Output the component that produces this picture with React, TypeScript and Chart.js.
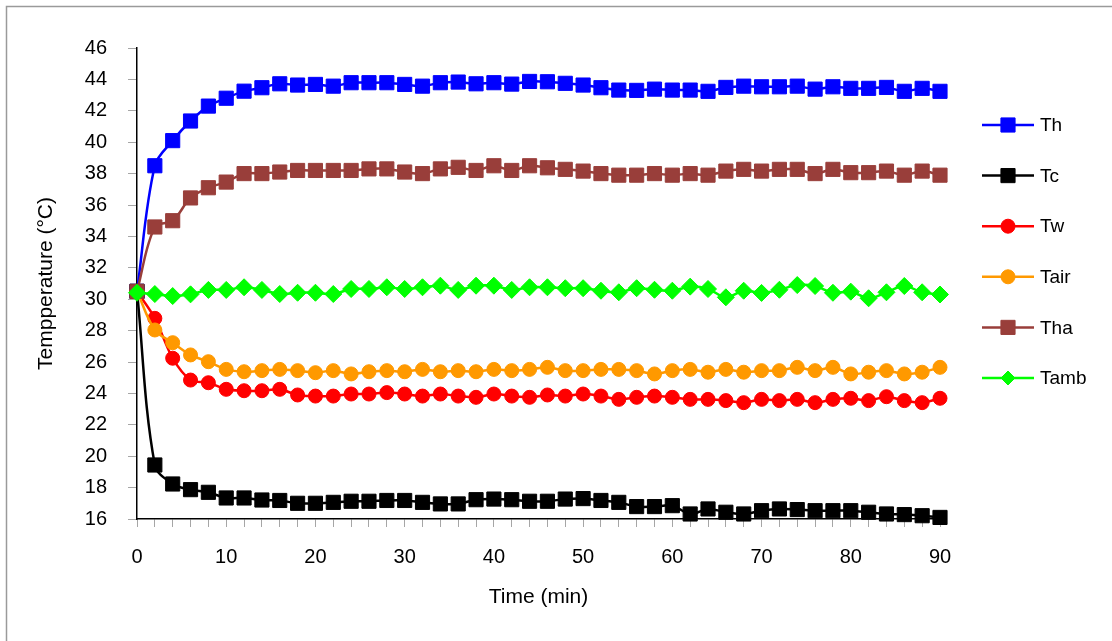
import { useEffect, useRef } from 'react';
import { Chart, registerables } from 'chart.js';

Chart.register(...registerables);

// ---- data ----
const times = [0, 2, 4, 6, 8, 10, 12, 14, 16, 18, 20, 22, 24, 26, 28, 30, 32, 34, 36, 38, 40, 42, 44,
  46, 48, 50, 52, 54, 56, 58, 60, 62, 64, 66, 68, 70, 72, 74, 76, 78, 80, 82, 84, 86, 88, 90];

const Th = [30.5, 38.5, 40.1, 41.35, 42.3, 42.8, 43.25, 43.47, 43.72, 43.64, 43.68, 43.57, 43.79, 43.79, 43.79, 43.68, 43.57, 43.79, 43.83, 43.72, 43.79, 43.7, 43.87,
  43.85, 43.75, 43.64, 43.47, 43.32, 43.3, 43.38, 43.32, 43.32, 43.24, 43.49, 43.57, 43.53, 43.53, 43.57, 43.38, 43.53, 43.43, 43.43, 43.49, 43.24, 43.43, 43.24];

const Tc = [30.5, 19.44, 18.23, 17.87, 17.7, 17.34, 17.34, 17.21, 17.18, 17.0, 17.0, 17.06, 17.13, 17.13, 17.18, 17.18, 17.06, 16.96, 16.96, 17.23, 17.27, 17.23, 17.13,
  17.13, 17.27, 17.3, 17.18, 17.06, 16.79, 16.79, 16.85, 16.32, 16.64, 16.43, 16.32, 16.53, 16.64, 16.6, 16.53, 16.53, 16.53, 16.43, 16.32, 16.28, 16.21, 16.1];

const Tw = [30.5, 28.78, 26.24, 24.85, 24.68, 24.26, 24.17, 24.17, 24.26, 23.9, 23.83, 23.83, 23.96, 23.96, 24.05, 23.96, 23.83, 23.96, 23.83, 23.75, 23.96, 23.83, 23.75,
  23.9, 23.83, 23.96, 23.83, 23.62, 23.75, 23.83, 23.75, 23.62, 23.62, 23.54, 23.41, 23.62, 23.54, 23.62, 23.41, 23.62, 23.69, 23.54, 23.79, 23.54, 23.41, 23.69];

const Tair = [30.5, 28.04, 27.23, 26.45, 26.02, 25.53, 25.38, 25.45, 25.53, 25.45, 25.32, 25.45, 25.24, 25.38, 25.45, 25.38, 25.53, 25.38, 25.45, 25.38, 25.53, 25.45, 25.53,
  25.66, 25.45, 25.45, 25.53, 25.53, 25.45, 25.24, 25.45, 25.53, 25.35, 25.53, 25.35, 25.45, 25.45, 25.66, 25.45, 25.66, 25.24, 25.35, 25.45, 25.24, 25.35, 25.66];

const Tha = [30.5, 34.6, 35.0, 36.45, 37.1, 37.46, 38.0, 38.0, 38.1, 38.2, 38.2, 38.2, 38.2, 38.3, 38.3, 38.1, 38.0, 38.3, 38.4, 38.2, 38.5, 38.2, 38.5,
  38.37, 38.27, 38.16, 38.0, 37.9, 37.9, 38.0, 37.9, 38.0, 37.9, 38.16, 38.27, 38.16, 38.27, 38.27, 38.0, 38.27, 38.06, 38.06, 38.16, 37.9, 38.16, 37.9];

const Tamb = [30.41, 30.33, 30.2, 30.31, 30.59, 30.59, 30.76, 30.59, 30.33, 30.41, 30.41, 30.33, 30.65, 30.65, 30.76, 30.65, 30.76, 30.86, 30.59, 30.86, 30.86, 30.59, 30.76,
  30.76, 30.7, 30.7, 30.54, 30.44, 30.7, 30.6, 30.54, 30.8, 30.65, 30.12, 30.54, 30.4, 30.6, 30.9, 30.84, 30.41, 30.48, 30.06, 30.44, 30.84, 30.44, 30.3];

const seriesNames = ['Th', 'Tc', 'Tw', 'Tair', 'Tha', 'Tamb'];
const seriesValues = [Th, Tc, Tw, Tair, Tha, Tamb];

const yMin = 16;
const yMax = 46;
const yStep = 2;
const xMin = 0;
const xMax = 90;
const xTickStep = 2;
const xLabelStep = 10;

// ---- styles ----
const colors = ['#0000FF', '#000000', '#FF0000', '#FF9900', '#993E3A', '#00FF00'];
const markerStyles = ['rect', 'rect', 'circle', 'circle', 'rect', 'rectRot'];
const markerRadius = [10, 10, 7, 7, 10, 8.5];
const FONT = "'Liberation Sans', Arial, sans-serif";
const TICK_SIZE = 20;
const TITLE_SIZE = 21;
const LEGEND_SIZE = 19;

function drawMarker(ctx: CanvasRenderingContext2D, style: string, x: number, y: number, r: number, color: string) {
  ctx.save();
  ctx.fillStyle = color;
  ctx.strokeStyle = color;
  ctx.lineWidth = 1;
  ctx.beginPath();
  if (style === 'rect') {
    const s = Math.SQRT1_2 * r;
    ctx.rect(x - s, y - s, 2 * s, 2 * s);
  } else if (style === 'circle') {
    ctx.arc(x, y, r, 0, Math.PI * 2);
  } else {
    ctx.moveTo(x, y - r);
    ctx.lineTo(x + r, y);
    ctx.lineTo(x, y + r);
    ctx.lineTo(x - r, y);
    ctx.closePath();
  }
  ctx.fill();
  ctx.stroke();
  ctx.restore();
}

const framePlugin = {
  id: 'frame',
  beforeDraw(chart: any) {
    const ctx = chart.ctx as CanvasRenderingContext2D;
    ctx.save();
    ctx.fillStyle = '#FFFFFF';
    ctx.fillRect(0, 0, chart.width, chart.height);
    ctx.strokeStyle = '#9A9A9A';
    ctx.lineWidth = 1.5;
    ctx.strokeRect(6.5, 6.5, chart.width + 50, chart.height + 50);
    ctx.restore();
  },
};

const legendPlugin = {
  id: 'sideLegend',
  afterDraw(chart: any) {
    const ctx = chart.ctx as CanvasRenderingContext2D;
    ctx.save();
    chart.data.datasets.forEach((ds: any, i: number) => {
      const y = 125 + i * 50.6;
      ctx.strokeStyle = ds.borderColor;
      ctx.lineWidth = 2.5;
      ctx.beginPath();
      ctx.moveTo(982, y);
      ctx.lineTo(1034, y);
      ctx.stroke();
      drawMarker(ctx, markerStyles[i], 1008, y, markerStyles[i] === 'rect' ? 10 : 7, ds.borderColor);
      ctx.fillStyle = '#000';
      ctx.font = `${LEGEND_SIZE}px ${FONT}`;
      ctx.textBaseline = 'middle';
      ctx.textAlign = 'left';
      ctx.fillText(ds.label, 1040, y + 1);
    });
    ctx.restore();
  },
};

export default function App() {
  const canvasRef = useRef<HTMLCanvasElement | null>(null);

  useEffect(() => {
    if (!canvasRef.current) return;
    const datasets = seriesNames.map((name, i) => ({
      label: name,
      data: times.map((t, j) => ({ x: t, y: seriesValues[i][j] })),
      borderColor: colors[i],
      backgroundColor: colors[i],
      pointBackgroundColor: colors[i],
      pointBorderColor: colors[i],
      pointStyle: markerStyles[i] as any,
      pointRadius: markerRadius[i],
      pointBorderWidth: 1,
      borderWidth: 2.5,
      tension: 0.35,
      clip: false as any,
      order: seriesNames.length - i,
    }));

    const chart = new Chart(canvasRef.current, {
      type: 'line',
      data: { datasets },
      options: {
        animation: false,
        responsive: false,
        events: [],
        layout: { padding: { left: 0, right: 172, top: 48, bottom: 0 } },
        plugins: { legend: { display: false }, tooltip: { enabled: false } },
        scales: {
          x: {
            type: 'linear',
            min: xMin,
            max: xMax,
            afterFit: (scale: any) => { scale.height = 122; },
            ticks: {
              stepSize: xTickStep,
              autoSkip: false,
              maxRotation: 0,
              padding: 18,
              color: '#000',
              font: { family: FONT, size: TICK_SIZE },
              callback: (v: any) => (Number(v) % xLabelStep === 0 ? String(v) : ''),
            },
            grid: { drawOnChartArea: false, drawTicks: true, tickLength: 8, color: '#A6A6A6', lineWidth: 1 },
            border: { display: true, color: '#000', width: 1.5 },
            title: {
              display: true,
              text: 'Time (min)',
              color: '#000',
              font: { family: FONT, size: TITLE_SIZE },
              padding: { top: 0, bottom: 31 },
            },
          },
          y: {
            type: 'linear',
            min: yMin,
            max: yMax,
            afterFit: (scale: any) => { scale.width = 137; },
            ticks: {
              stepSize: yStep,
              padding: 21,
              color: '#000',
              font: { family: FONT, size: TICK_SIZE },
            },
            grid: { drawOnChartArea: false, drawTicks: true, tickLength: 9, color: '#A6A6A6', lineWidth: 1 },
            border: { display: true, color: '#000', width: 1.5 },
            title: {
              display: true,
              text: 'Tempperature (°C)',
              color: '#000',
              font: { family: FONT, size: TITLE_SIZE },
              padding: { top: 34, bottom: 0 },
            },
          },
        },
      },
      plugins: [framePlugin, legendPlugin],
    });
    return () => chart.destroy();
  }, []);

  return (
    <div style={{ position: 'absolute', left: 0, top: 0, width: 1112, height: 641 }}>
      <canvas ref={canvasRef} width={1112} height={641} style={{ display: 'block', width: 1112, height: 641 }} />
    </div>
  );
}
